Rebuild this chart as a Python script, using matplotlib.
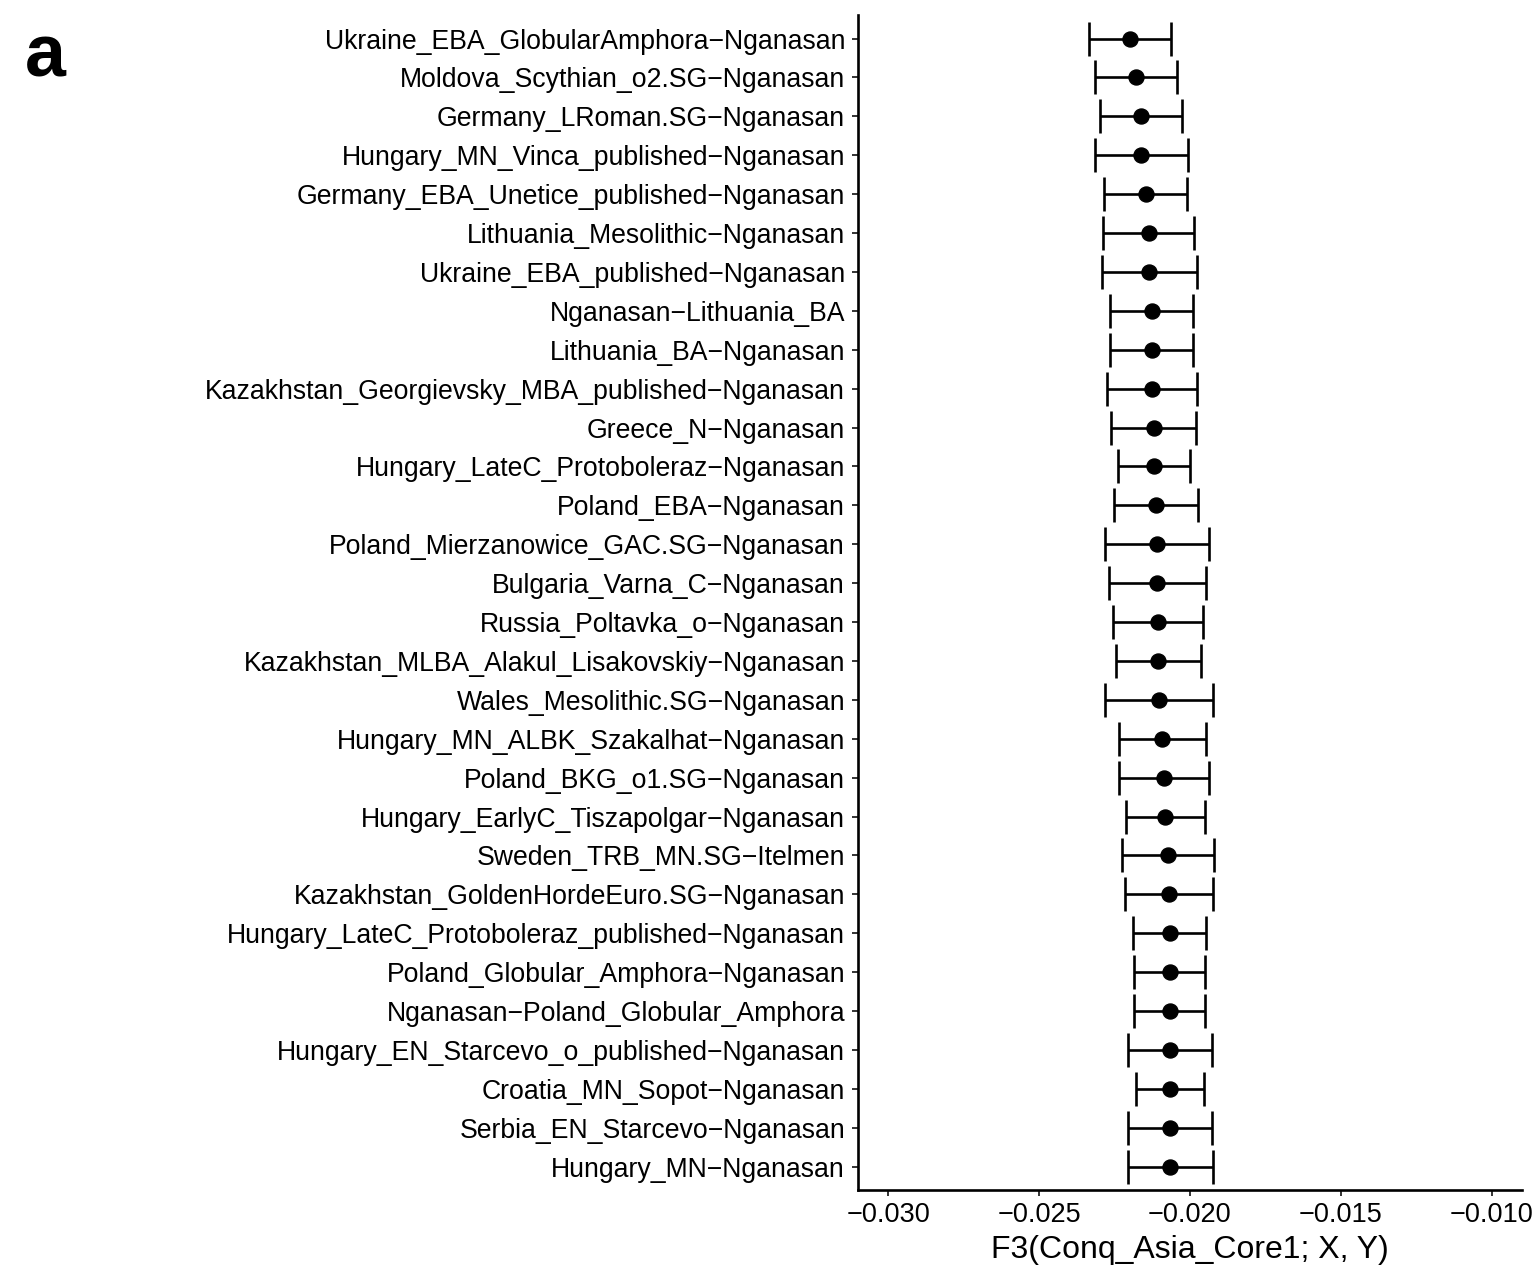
import numpy as np
import matplotlib
matplotlib.use("Agg")
import matplotlib.pyplot as plt

plt.rcParams['font.family'] = ['Liberation Sans', 'DejaVu Sans']

# populations, top to bottom
labels = [
    "Ukraine_EBA_GlobularAmphora\u2212Nganasan",
    "Moldova_Scythian_o2.SG\u2212Nganasan",
    "Germany_LRoman.SG\u2212Nganasan",
    "Hungary_MN_Vinca_published\u2212Nganasan",
    "Germany_EBA_Unetice_published\u2212Nganasan",
    "Lithuania_Mesolithic\u2212Nganasan",
    "Ukraine_EBA_published\u2212Nganasan",
    "Nganasan\u2212Lithuania_BA",
    "Lithuania_BA\u2212Nganasan",
    "Kazakhstan_Georgievsky_MBA_published\u2212Nganasan",
    "Greece_N\u2212Nganasan",
    "Hungary_LateC_Protoboleraz\u2212Nganasan",
    "Poland_EBA\u2212Nganasan",
    "Poland_Mierzanowice_GAC.SG\u2212Nganasan",
    "Bulgaria_Varna_C\u2212Nganasan",
    "Russia_Poltavka_o\u2212Nganasan",
    "Kazakhstan_MLBA_Alakul_Lisakovskiy\u2212Nganasan",
    "Wales_Mesolithic.SG\u2212Nganasan",
    "Hungary_MN_ALBK_Szakalhat\u2212Nganasan",
    "Poland_BKG_o1.SG\u2212Nganasan",
    "Hungary_EarlyC_Tiszapolgar\u2212Nganasan",
    "Sweden_TRB_MN.SG\u2212Itelmen",
    "Kazakhstan_GoldenHordeEuro.SG\u2212Nganasan",
    "Hungary_LateC_Protoboleraz_published\u2212Nganasan",
    "Poland_Globular_Amphora\u2212Nganasan",
    "Nganasan\u2212Poland_Globular_Amphora",
    "Hungary_EN_Starcevo_o_published\u2212Nganasan",
    "Croatia_MN_Sopot\u2212Nganasan",
    "Serbia_EN_Starcevo\u2212Nganasan",
    "Hungary_MN\u2212Nganasan",
]

f3 = [
    -0.02198, -0.02178, -0.02163, -0.02161, -0.02146, -0.02136, -0.02134,
    -0.02127, -0.02127, -0.02125, -0.02120, -0.02118, -0.02113, -0.02109,
    -0.02108, -0.02105, -0.02104, -0.02102, -0.02092, -0.02085, -0.02081,
    -0.02072, -0.02069, -0.02067, -0.02067, -0.02067, -0.02066, -0.02066,
    -0.02066, -0.02065,
]

se = [
    0.001347, 0.001359, 0.001354, 0.001548, 0.001371, 0.001508, 0.001584,
    0.001385, 0.001385, 0.001503, 0.001414, 0.001198, 0.001385, 0.001724,
    0.001613, 0.001497, 0.001397, 0.001785, 0.001442, 0.001492, 0.001298,
    0.001515, 0.001463, 0.001215, 0.001187, 0.001187, 0.001392, 0.001115,
    0.001387, 0.001414,
]

xticks = [-0.030, -0.025, -0.020, -0.015, -0.010]

fig = plt.figure(figsize=(15.36, 12.66), dpi=100)
ax = fig.add_axes([0.5586, 0.060, 0.4321, 0.928])

y = np.arange(len(labels))
ax.errorbar(f3, y, xerr=se, fmt='o', color='black', ecolor='black',
            markersize=10.8, elinewidth=1.9, capsize=12.5, capthick=1.9)

ax.set_xlim(-0.031, -0.009)
ax.set_ylim(len(labels) - 0.4, -0.6)
ax.set_yticks(y)
ax.set_yticklabels(labels, fontsize=19.2)
ax.set_xticks(xticks)
ax.set_xticklabels([f"{t:.3f}".replace('-', '\u2212') for t in xticks], fontsize=19.5)
ax.set_xlabel("F3(Conq_Asia_Core1; X, Y)", fontsize=23, labelpad=5)

for side in ['top', 'right']:
    ax.spines[side].set_visible(False)
for side in ['left', 'bottom']:
    ax.spines[side].set_linewidth(1.9)
ax.tick_params(axis='both', length=4.3, width=1.4, color='#333333', pad=4)
ax.tick_params(axis='y', pad=5)

fig.text(0.016, 0.955, "a", fontsize=53, fontweight='bold', ha='left', va='center')

fig.savefig("out.png", dpi=100)
